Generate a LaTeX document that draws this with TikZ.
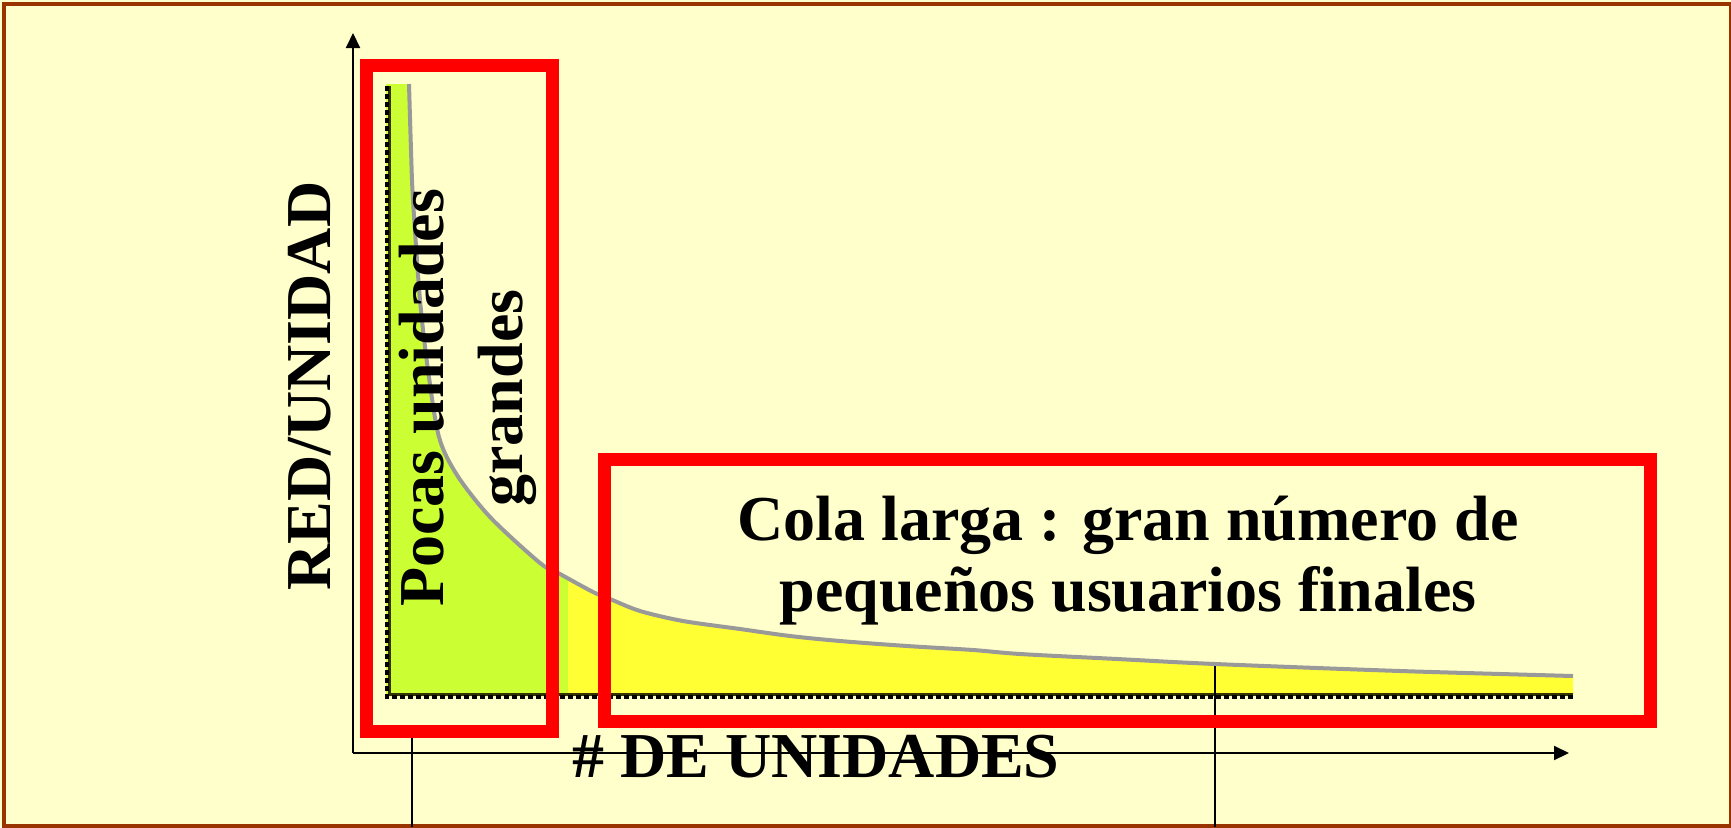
\documentclass[tikz,border=0pt]{standalone}
\usepackage{fontspec}
\setmainfont{Liberation Serif}
\usetikzlibrary{arrows.meta}
\definecolor{bgyellow}{RGB}{255,255,204}
\definecolor{framebrown}{RGB}{153,51,0}
\definecolor{fillgreen}{RGB}{204,255,51}
\definecolor{fillyellow}{RGB}{255,255,51}
\definecolor{curvegray}{RGB}{153,153,153}
\definecolor{darkolive}{RGB}{51,51,0}
\begin{document}
\begin{tikzpicture}[x=1pt,y=-1pt,
  redbox/.style={draw=red, line width=13pt, inner sep=0pt},
  lbl/.style={font=\fontsize{64}{71}\selectfont\bfseries, inner sep=0pt},
  axisline/.style={line width=2pt, -{Triangle[length=15pt,width=14pt]}},
  guide/.style={line width=2pt},
  edgeolive/.style={darkolive, line width=3pt},
  edgedash/.style={black, line width=4pt, dash pattern=on 5pt off 3pt}]
\useasboundingbox (0,0) rectangle (1731,827);
\fill[bgyellow] (0,0) rectangle (1731,827);
\draw[framebrown, line width=4pt] (4,4) rectangle (1731,826);

\def\curvepts{(409,84) (411,150) (413,200) (420,300) (428,370) (439,437) (457,475) (490,517) (540,563) (560,574) (593,592) (610,599) (640,611) (683,621) (740,629) (790,636) (840,641) (907,646) (973,650) (1020,654) (1117,659) (1215,664) (1400,671) (1573,676)}

% area under the curve
\fill[fillyellow] (386,696) -- (386,84) -- plot[smooth,tension=0.5] coordinates {\curvepts} -- (1573,696) -- cycle;
\begin{scope}
  \clip (0,0) rectangle (568,827);
  \fill[fillgreen] (386,696) -- (386,84) -- plot[smooth,tension=0.5] coordinates {\curvepts} -- (1573,696) -- cycle;
\end{scope}
\draw[curvegray, line width=4pt] plot[smooth,tension=0.5] coordinates {\curvepts};
\coordinate (blTop) at (387,86);
\coordinate (blCorner) at (387,697);
\coordinate (brEnd) at (1573,697);
\draw[edgeolive] (389,86) -- (389,694) -- (1573,694);
\draw[edgedash] (blTop) -- (blCorner) -- (brEnd);

% guide lines
\coordinate (g1top) at (412,731);
\coordinate (g1bot) at (412,827);
\coordinate (g2top) at (1215,666);
\coordinate (g2bot) at (1215,827);
\draw[guide] (g1top) -- (g1bot);
\draw[guide] (g2top) -- (g2bot);

% axes
\coordinate (origin) at (353,753);
\coordinate (ytip) at (353,33);
\coordinate (xtip) at (1569,753);
\draw[axisline] (origin) -- (ytip);
\draw[axisline] (origin) -- (xtip);

% red boxes
\node[redbox, minimum width=186pt, minimum height=666pt] (box1) at (459,398) {};
\node[redbox, minimum width=1046pt, minimum height=262pt] (box2) at (1127,590) {};

% labels
\node[lbl, rotate=90, anchor=base] (ylab) at (330,386) {RED/UNIDAD};
\node[lbl, anchor=base] (xlab) at (816,777) {\# DE UNIDADES};
\node[lbl, rotate=90, align=center, font=\fontsize{64}{79}\selectfont\bfseries] (few) at (468,398) {Pocas unidades\\grandes};
\node[lbl, align=center] (tail) at (1128,561) {Cola larga : gran número de\\pequeños usuarios finales};
\end{tikzpicture}
\end{document}
